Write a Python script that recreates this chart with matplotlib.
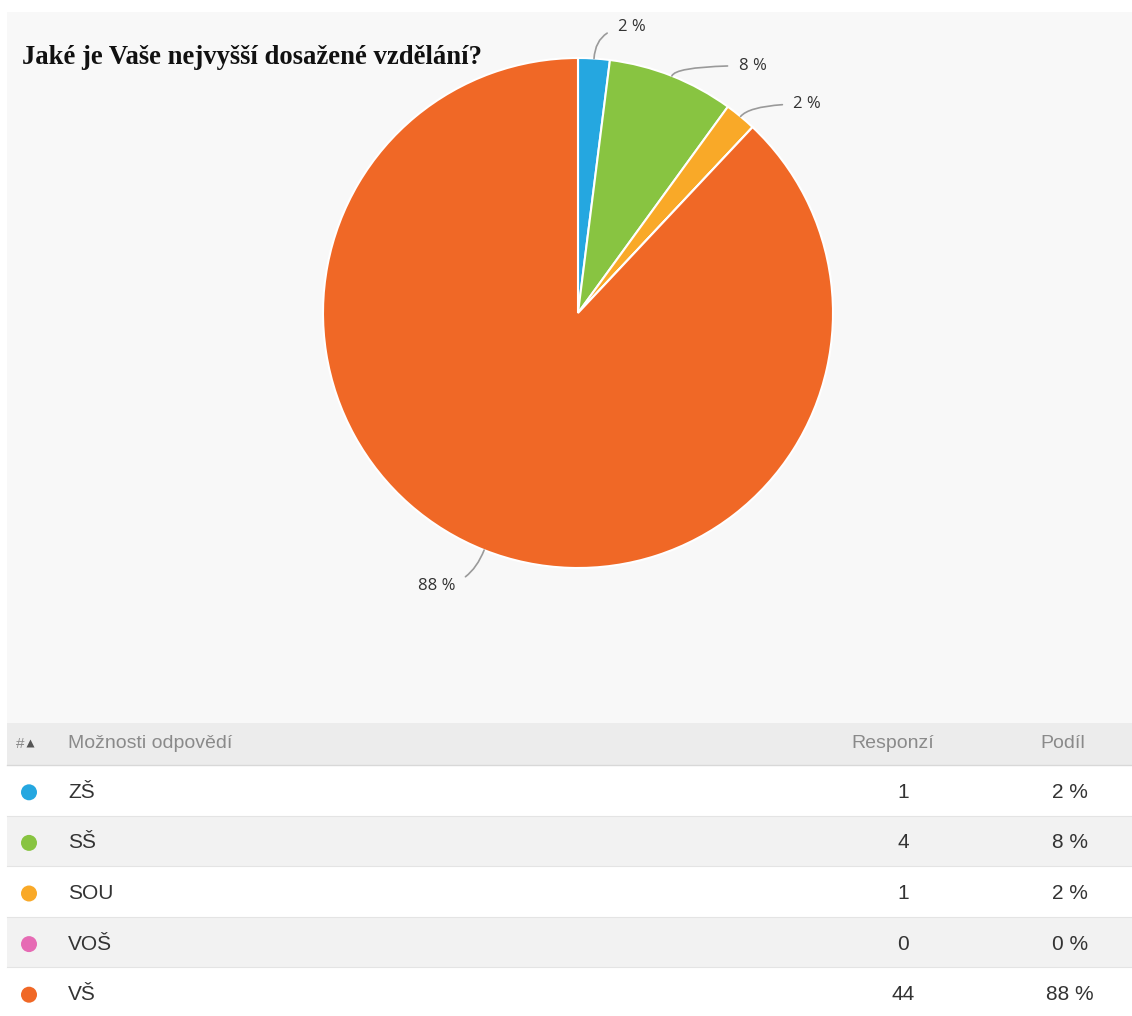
import numpy as np
import matplotlib
matplotlib.use('Agg')
import matplotlib.pyplot as plt
from matplotlib.patches import Rectangle, Circle

# Survey answers
question = 'Jaké je Vaše nejvyšší dosažené vzdělání?'
options = ['ZŠ', 'SŠ', 'SOU', 'VOŠ', 'VŠ']
responses = [1, 4, 1, 0, 44]
colors = ['#25a7e0', '#88c441', '#f9a928', '#e66bb4', '#f06826']
header = ['#', 'Možnosti odpovědí', 'Responzí', 'Podíl']

total = sum(responses)
shares = [100 * r / total for r in responses]

W, H = 1132, 1016
fig = plt.figure(figsize=(W / 100, H / 100), dpi=100)
fig.patch.set_facecolor('white')

# background axes in pixel coordinates
bg = fig.add_axes([0, 0, 1, 1])
bg.set_xlim(0, W)
bg.set_ylim(H, 0)
bg.axis('off')

bg.add_patch(Rectangle((7, 12), W - 7, 711, color='#f8f8f8', lw=0))
bg.text(22, 57, question, fontsize=19.2, fontweight='bold', family='Liberation Serif',
        color='#111111', va='center', ha='left')

# table
tf = 'Liberation Sans'
top = 723
head_h = 42
row_h = 50.6
bg.add_patch(Rectangle((7, top), W - 7, head_h, color='#ececec', lw=0))
bg.plot([7, W], [top + head_h, top + head_h], color='#d8d8d8', lw=1)
hy = top + head_h / 2
bg.text(16, hy, header[0], fontsize=11, family=tf, color='#8a8a8a', va='center', ha='left')
bg.plot([30], [hy - 1], marker='^', ms=6, color='#555555', mec='none')
bg.text(68, hy, header[1], fontsize=14, family=tf, color='#8a8a8a', va='center', ha='left')
bg.text(893, hy, header[2], fontsize=14, family=tf, color='#8a8a8a', va='center', ha='center')
bg.text(1063, hy, header[3], fontsize=14, family=tf, color='#8a8a8a', va='center', ha='center')

for i, (opt, r, s, c) in enumerate(zip(options, responses, shares, colors)):
    y0 = top + head_h + i * row_h
    fc = '#ffffff' if i % 2 == 0 else '#f2f2f2'
    bg.add_patch(Rectangle((7, y0), W - 7, row_h, color=fc, lw=0))
    if i > 0:
        bg.plot([7, W], [y0, y0], color='#e4e4e4', lw=0.8)
    yc = y0 + row_h / 2 + 2
    bg.add_patch(Circle((29, yc), 8, color=c, lw=0))
    bg.text(68, yc, opt, fontsize=15, family=tf, color='#333333', va='center', ha='left')
    bg.text(903, yc, str(r), fontsize=15, family=tf, color='#333333', va='center', ha='center')
    bg.text(1070, yc, '%d %%' % round(s), fontsize=15, family=tf, color='#333333',
            va='center', ha='center')

# pie: center (578, 313) px, radius 255 px
cx, cy, rad = 578, 313, 255
lim = 1.25
half = rad * lim
ax = fig.add_axes([(cx - half) / W, (H - cy - half) / H, 2 * half / W, 2 * half / H])
wedges, _ = ax.pie(responses, colors=colors, startangle=90, counterclock=False,
                   wedgeprops=dict(edgecolor='white', linewidth=1.5))
ax.set_xlim(-lim, lim)
ax.set_ylim(-lim, lim)
ax.set_aspect('equal')
ax.axis('off')

# percent labels with curved leader lines
label_pos = {0: (0.155, 1.12), 1: (0.63, 0.97), 2: (0.845, 0.82), 4: (-0.48, -1.07)}
for i, w in enumerate(wedges):
    if responses[i] == 0:
        continue
    ang = (w.theta1 + w.theta2) / 2
    px, py = np.cos(np.radians(ang)), np.sin(np.radians(ang))
    tx, ty = label_pos[i]
    ha = 'left' if tx > 0 else 'right'
    ax.annotate('%d %%' % round(shares[i]), xy=(px, py), xytext=(tx, ty),
                fontsize=12, family='Open Sans', color='#333333', ha=ha, va='center',
                arrowprops=dict(arrowstyle='-', color='#9a9a9a', lw=1.2,
                                shrinkA=6, shrinkB=0,
                                connectionstyle='angle3,angleA=0,angleB=%f' % ang))

fig.savefig('out.png', dpi=100, facecolor='white')
